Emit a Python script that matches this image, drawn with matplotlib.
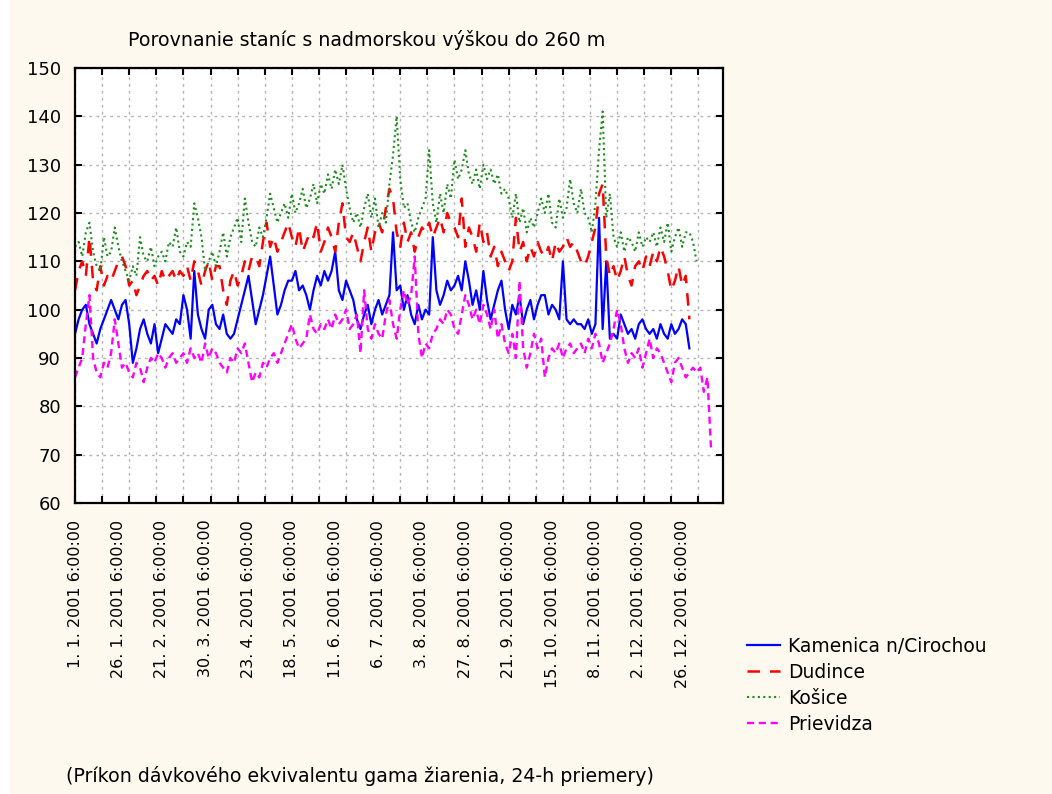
import numpy as np
import matplotlib
matplotlib.use("Agg")
import matplotlib.pyplot as plt
from matplotlib.patches import Rectangle

# Daily averages (every second observation), nSv/h
kamenica = [
    95, 98, 100, 101, 97, 95, 93, 96, 98, 100,
    102, 100, 98, 101, 102, 97, 89, 92, 96, 98,
    95, 93, 97, 91, 94, 97, 96, 95, 98, 97,
    103, 100, 94, 108, 99, 96, 94, 100, 101, 97,
    96, 99, 95, 94, 95, 98, 101, 104, 107, 102,
    97, 100, 103, 107, 111, 105, 99, 101, 104, 106,
    106, 108, 104, 105, 103, 100, 104, 107, 105, 108,
    106, 108, 112, 104, 102, 106, 104, 102, 98, 96,
    99, 101, 97, 100, 102, 99, 101, 103, 116, 104,
    105, 100, 103, 99, 97, 101, 98, 100, 99, 115,
    104, 101, 103, 106, 104, 105, 107, 104, 110, 106,
    101, 104, 100, 108, 102, 98, 101, 104, 106, 100,
    96, 101, 99, 103, 97, 100, 102, 98, 101, 103,
    103, 99, 101, 100, 98, 110, 98, 97, 98, 97,
    97, 96, 98, 95, 97, 119, 96, 110, 94, 95,
    94, 99, 97, 95, 96, 94, 97, 98, 96, 95,
    96, 94, 97, 95, 94, 97, 95, 96, 98, 97,
    92,
]
dudince = [
    104, 108, 110, 107, 115, 106, 104, 109, 105, 107,
    106, 108, 110, 111, 109, 105, 106, 103, 105, 107,
    108, 106, 107, 105, 108, 106, 107, 108, 106, 108,
    107, 109, 106, 110, 108, 105, 108, 110, 106, 109,
    109, 104, 101, 106, 108, 105, 107, 110, 108, 111,
    111, 109, 114, 118, 113, 115, 112, 114, 116, 118,
    115, 113, 117, 112, 114, 116, 115, 118, 112, 114,
    117, 115, 112, 118, 122, 115, 114, 116, 113, 110,
    114, 117, 112, 116, 118, 116, 121, 125, 123, 116,
    113, 118, 114, 116, 112, 115, 117, 116, 118, 115,
    117, 119, 116, 120, 118, 117, 115, 123, 113, 117,
    115, 112, 118, 114, 116, 111, 113, 109, 112, 110,
    108, 110, 119, 112, 114, 110, 113, 111, 114, 112,
    111, 113, 110, 114, 112, 113, 115, 113, 114, 112,
    110, 109, 111, 114, 117, 124, 126, 111, 107, 109,
    106, 108, 111, 107, 105, 109, 110, 108, 111, 109,
    112, 110, 113, 111, 108, 104, 106, 109, 105, 107,
    98,
]
kosice = [
    113, 114, 111, 116, 118, 112, 109, 108, 115, 111,
    112, 117, 113, 110, 108, 106, 109, 107, 115, 111,
    110, 113, 109, 111, 112, 110, 114, 113, 117, 112,
    111, 114, 113, 122, 119, 115, 108, 110, 112, 109,
    112, 116, 111, 115, 117, 119, 114, 123, 118, 114,
    113, 117, 115, 119, 124, 121, 118, 120, 122, 119,
    124, 120, 122, 125, 121, 123, 126, 122, 126, 124,
    128, 125, 129, 126, 130, 125, 121, 118, 120, 117,
    121, 124, 119, 123, 117, 120, 118, 126, 132, 140,
    127, 121, 122, 118, 116, 119, 121, 123, 133, 122,
    118, 124, 120, 126, 123, 131, 127, 129, 133, 128,
    126, 129, 125, 130, 127, 129, 126, 128, 124, 125,
    123, 119, 124, 118, 121, 116, 119, 117, 120, 123,
    120, 124, 118, 117, 123, 119, 121, 127, 122, 120,
    125, 120, 119, 116, 122, 133, 141, 119, 124, 115,
    113, 116, 112, 115, 114, 112, 116, 113, 115, 114,
    116, 113, 117, 114, 118, 112, 115, 117, 113, 116,
    116, 114, 110,
]
prievidza = [
    86, 88, 90, 97, 103, 90, 87, 86, 89, 88,
    91, 98, 93, 88, 89, 87, 86, 89, 88, 85,
    88, 90, 89, 91, 90, 88, 90, 91, 89, 90,
    91, 89, 92, 90, 91, 89, 93, 90, 92, 91,
    89, 88, 87, 90, 89, 92, 91, 93, 89, 85,
    87, 86, 89, 88, 90, 91, 89, 91, 93, 95,
    97, 94, 92, 93, 94, 99, 96, 95, 97, 96,
    98, 96, 99, 97, 98, 100, 96, 97, 99, 91,
    104, 96, 94, 97, 95, 94, 99, 102, 97, 94,
    100, 104, 101, 103, 111, 95, 90, 93, 92, 95,
    96, 98, 97, 100, 99, 96, 95, 99, 103, 101,
    98, 100, 97, 101, 99, 96, 100, 94, 97, 93,
    91, 95, 90, 106, 92, 88, 91, 95, 92, 94,
    86, 90, 92, 91, 93, 90, 92, 93, 91, 92,
    93, 91, 94, 92, 95, 93, 89, 91, 93, 96,
    100, 97, 92, 89, 91, 90, 92, 88, 91, 94,
    90, 92, 91, 89, 87, 85, 89, 90, 88, 86,
    87, 88, 87, 88, 83, 86, 71,
]

series_names = ["Kamenica n/Cirochou", "Dudince", "Košice", "Prievidza"]
date_labels = [
    "1. 1. 2001 6:00:00", "26. 1. 2001 6:00:00", "21. 2. 2001 6:00:00",
    "30. 3. 2001 6:00:00", "23. 4. 2001 6:00:00", "18. 5. 2001 6:00:00",
    "11. 6. 2001 6:00:00", "6. 7. 2001 6:00:00", "3. 8. 2001 6:00:00",
    "27. 8. 2001 6:00:00", "21. 9. 2001 6:00:00", "15. 10. 2001 6:00:00",
    "8. 11. 2001 6:00:00", "2. 12. 2001 6:00:00", "26. 12. 2001 6:00:00",
]

plt.rcParams["font.family"] = ["DejaVu Sans"]

bg = "#FEF9EF"
fig = plt.figure(figsize=(10.52, 7.94), dpi=100, facecolor=bg)
fig.patches.append(Rectangle((0, 0), 10 / 1052, 1, transform=fig.transFigure,
                             facecolor="white", edgecolor="none", zorder=-1))

ax = fig.add_axes([75 / 1052, 1 - 503 / 794, (723 - 75) / 1052, (503 - 68) / 794])
ax.set_facecolor("white")

step = 2  # one value every second observation
styles = [
    dict(color="#0000FF", lw=1.6, ls="-"),
    dict(color="#FF0000", lw=1.8, ls=(0, (5, 4))),
    dict(color="#1E8C1E", lw=1.5, ls=(0, (1, 1.6))),
    dict(color="#FF00FF", lw=1.7, ls=(0, (3, 2))),
]
for vals, name, st in zip([kamenica, dudince, kosice, prievidza], series_names, styles):
    x = np.arange(len(vals)) * step
    ax.plot(x, vals, label=name, **st)

ax.set_xlim(0, 358.6)
ax.set_ylim(60, 150)
ax.set_yticks(np.arange(60, 151, 10))
ax.xaxis.remove_overlapping_locs = False
ax.set_xticks(np.arange(0, 358, 15))
ax.set_xticklabels([])
ax.set_xticks(np.arange(len(date_labels)) * 24, date_labels, minor=True)
ax.tick_params(which="major", direction="in", length=5, width=1.5,
               top=True, right=True, labelsize=13, pad=10, colors="black")
ax.tick_params(which="minor", length=0, labelsize=11.5, pad=12)
for lab in ax.get_xticklabels(minor=True):
    lab.set_rotation(90)
    lab.set_va("top")
    lab.set_ha("center")
ax.grid(which="major", color="#B4B4B4", linestyle=(0, (2, 3)), linewidth=1.0)
for sp in ax.spines.values():
    sp.set_linewidth(1.6)
    sp.set_color("black")

fig.text(367 / 1052, 1 - 40 / 794, "Porovnanie staníc s nadmorskou výškou do 260 m",
         ha="center", va="center", fontsize=13.7)
fig.text(360 / 1052, 1 - 776 / 794,
         "(Príkon dávkového ekvivalentu gama žiarenia, 24-h priemery)",
         ha="center", va="center", fontsize=13.7)

fig.legend(loc="upper left", bbox_to_anchor=(739 / 1052, 1 - 629 / 794),
           frameon=False, fontsize=13.5, handlelength=1.8, handletextpad=0.4,
           labelspacing=0.38, borderaxespad=0)

fig.savefig("out.png", dpi=100, facecolor=bg)
